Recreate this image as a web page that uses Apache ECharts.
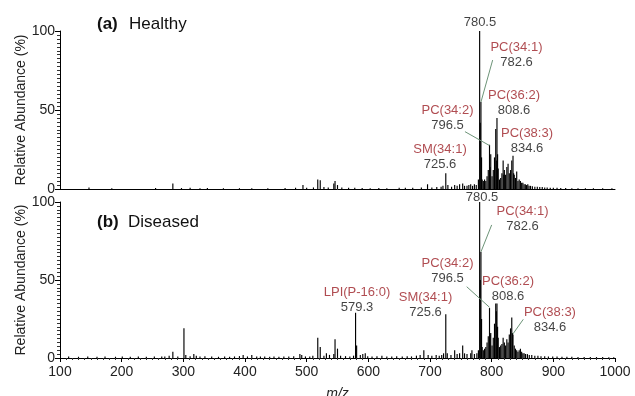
<!DOCTYPE html>
<html>
<head>
<meta charset="utf-8">
<script src="https://cdn.jsdelivr.net/npm/echarts@6/dist/echarts.min.js"></script>
<style>
  html, body { margin: 0; padding: 0; background: #fff; }
  #chart { width: 635px; height: 396px; }
</style>
</head>
<body>
<div id="chart"></div>
<script>
// peak lists (m/z, relative abundance %)
var healthyMz = [147, 184, 255, 283, 297, 311, 327, 339, 365, 391, 411, 437, 465, 482, 494, 500, 511, 518, 522, 528, 535, 544, 546, 550, 557, 568, 578, 590, 603, 617, 630, 650, 660, 672, 686, 696, 703, 711, 718, 721, 725.6, 729, 735, 740, 744, 748, 753, 756, 760, 763, 766, 769, 772, 775, 778.5,
  780.5, 781.5, 782.6, 783.6, 784.6, 786.5, 788.5, 790.5, 792.5, 794.5, 796.5, 797.5, 798.5, 800.6, 802.6, 804.6, 806.6, 807.6, 808.6, 809.6, 810.6, 812.6, 814.6, 816.6, 818.6, 819.6, 820.6, 822.6, 824.6, 826.6, 828.6, 830.6, 832.6, 834.6, 835.6, 836.6, 838.6, 840.6, 842.6, 844.6, 846.6, 848.6, 850.6, 852.6, 854.6, 856.6, 858.6, 860.6,
  863, 866, 870, 874, 878, 882, 886, 890, 895, 900, 906, 912, 920, 930, 940, 952, 965, 980, 995];
var healthyInt = [1.0, 0.5, 0.6, 3.5, 0.6, 0.8, 0.5, 0.6, 0.5, 0.5, 0.5, 0.4, 0.6, 0.8, 2.5, 0.8, 1.0, 6.0, 5.5, 1.2, 1.0, 3.5, 5.0, 2.5, 1.0, 0.8, 0.8, 0.6, 0.5, 0.6, 0.5, 0.8, 0.8, 0.8, 1.0, 3.0, 1.0, 1.2, 1.5, 2.0, 10, 2.5, 1.5, 2.5, 2.0, 3.0, 3.5, 2.0, 2.0, 2.5, 3.0, 2.0, 3.0, 2.5, 6,
  100, 42, 55, 20, 6, 5, 6, 5, 8, 12, 28, 14, 22, 8, 12, 20, 38, 18, 45, 22, 13, 6, 7, 10, 18, 9, 12, 9, 14, 16, 10, 12, 18, 21, 10, 9, 7, 11, 5, 6, 5, 4, 4, 3, 3, 2.5, 3, 2,
  2, 1.8, 1.5, 1.5, 1.2, 1.2, 1.0, 1.0, 0.8, 0.8, 0.8, 0.6, 0.6, 0.5, 0.5, 0.5, 0.4, 0.4, 0.4];

var diseasedMz = [114, 130, 145, 160, 173, 190, 201, 214, 227, 240, 253, 265, 270, 277, 283, 291, 301, 304, 311, 317, 321, 327, 335, 346, 357, 367, 375, 383, 391, 397, 404, 411, 419, 425, 432, 440, 447, 455, 463, 471, 479, 489, 492, 498, 505, 510, 518, 522, 528, 532, 537, 544, 546, 550, 555, 563, 570, 576, 579.3, 581, 587, 591, 595, 599,
  606, 614, 622, 630, 638, 646, 655, 663, 670, 678, 684, 690, 697, 703, 710, 715, 719, 722, 725.6, 728, 734, 740, 744, 748, 753, 756, 760, 766, 768, 772, 776, 778.5,
  780.5, 781.5, 782.6, 783.6, 784.6, 786.5, 788.5, 790.5, 792.5, 794.5, 796.5, 797.5, 798.5, 800.6, 802.6, 804.6, 806.6, 807.6, 808.6, 809.6, 810.6, 812.6, 814.6, 816.6, 818.6, 820.6, 822.6, 824.6, 826.6, 828.6, 830.6, 832.6, 833.6, 834.6, 836.6, 838.6, 840.6, 842.6, 844.6, 846.6, 848.6, 850.6, 852.6,
  855, 858, 861, 865, 870, 875, 880, 886, 892, 899, 906, 914, 922, 930, 940, 950, 960, 970, 980, 990, 998];
var diseasedInt = [1.0, 0.8, 1.0, 0.8, 1.0, 0.8, 1.0, 0.8, 1.0, 0.8, 1.0, 1.0, 1.0, 1.5, 4, 1.0, 19, 2, 1.2, 2.5, 1.5, 1.0, 1.2, 1.0, 0.8, 1.0, 0.8, 1.0, 1.2, 2.0, 1.0, 2.0, 1.0, 1.0, 1.0, 0.8, 1.0, 0.8, 1.0, 1.0, 1.2, 2.5, 2.0, 1.0, 1.0, 1.5, 13, 7, 1.5, 3, 2, 2.5, 12, 6, 1.5, 1.2, 1.0, 1.5, 29, 8, 2, 2.5, 3, 1.2,
  1.0, 1.2, 1.5, 1.0, 1.0, 1.2, 1.0, 1.2, 1.0, 1.5, 2.0, 5, 2.0, 1.5, 2.0, 1.5, 2.0, 3, 28, 3, 2, 5, 2.5, 3, 8, 3, 2.5, 3, 5, 2.5, 3, 5,
  100, 50, 68, 25, 7, 5, 6, 7, 10, 14, 32, 15, 16, 8, 13, 22, 35, 30, 35, 20, 13, 7, 8, 9, 13, 10, 8, 12, 10, 15, 19, 26, 16, 15, 8, 6, 5, 4, 5, 6, 4, 3, 3,
  2.5, 2.5, 2, 2, 1.5, 1.5, 1.2, 1.2, 1.0, 1.0, 1.0, 0.8, 0.8, 0.8, 0.7, 0.7, 0.6, 0.6, 0.6, 0.5, 0.5];

// peak annotations
var healthyNames = ['', 'PC(34:1)', 'PC(36:2)', 'PC(34:2)', 'PC(38:3)', 'SM(34:1)'];
var healthyTags = ['780.5', '782.6', '808.6', '796.5', '834.6', '725.6'];
var diseasedNames = ['', 'PC(34:1)', 'PC(34:2)', 'PC(36:2)', 'SM(34:1)', 'PC(38:3)', 'LPI(P-16:0)'];
var diseasedTags = ['780.5', '782.6', '796.5', '808.6', '725.6', '834.6', '579.3'];

// where the annotation blocks sit, in data units
var healthySpots = [[781, 105.7], [840.2, 84.8], [836.2, 54.7], [728.4, 44.9], [857.3, 30.4], [716.2, 20.3]];
var diseasedSpots = [[784.3, 103.2], [850, 89.4], [728.4, 55.8], [826.5, 44.6], [692.7, 34], [894.5, 24.4], [581.6, 37.5]];
// leader lines: label end -> peak
var healthyLeaders = [[801.6, 81.6, 782.6, 55], [756.7, 36.3, 796.5, 27.5]];
var diseasedLeaders = [[800, 85.3, 782.6, 68], [759.5, 45.7, 796.5, 32.5], [851.3, 24.8, 834.6, 15.5]];

var FONT = 'Liberation Sans, Arial, sans-serif';

function stickSeries(mz, inten, idx) {
  return {
    type: 'custom',
    xAxisIndex: idx,
    yAxisIndex: idx,
    data: mz.map(function (m, i) { return [m, inten[i]]; }),
    renderItem: function (params, api) {
      var p0 = api.coord([api.value(0), 0]);
      var p1 = api.coord([api.value(0), api.value(1)]);
      return {
        type: 'line',
        shape: { x1: p0[0], y1: p0[1], x2: p1[0], y2: p1[1] },
        style: { stroke: '#000', lineWidth: 1.15 }
      };
    },
    z: 2
  };
}

function leaderSeries(rows, idx) {
  return {
    type: 'custom',
    xAxisIndex: idx,
    yAxisIndex: idx,
    data: rows,
    clip: false,
    renderItem: function (params, api) {
      var a = api.coord([api.value(0), api.value(1)]);
      var b = api.coord([api.value(2), api.value(3)]);
      return {
        type: 'line',
        shape: { x1: a[0], y1: a[1], x2: b[0], y2: b[1] },
        style: { stroke: '#6d9478', lineWidth: 1 }
      };
    },
    z: 3
  };
}

function labelSeries(spots, names, tags, idx) {
  return {
    type: 'scatter',
    xAxisIndex: idx,
    yAxisIndex: idx,
    clip: false,
    symbolSize: 1,
    itemStyle: { color: 'rgba(0,0,0,0)' },
    silent: true,
    data: spots.map(function (s, i) { return { value: s, nm: names[i], tag: tags[i] }; }),
    label: {
      show: true,
      position: 'inside',
      align: 'center',
      verticalAlign: 'middle',
      formatter: function (p) {
        var d = p.data;
        return d.nm ? '{n|' + d.nm + '}\n{v|' + d.tag + '}' : '{v|' + d.tag + '}';
      },
      rich: {
        n: { color: '#9c1f25', fontSize: 13, fontFamily: FONT, lineHeight: 15, align: 'center' },
        v: { color: '#111', fontSize: 13, fontFamily: FONT, lineHeight: 15, align: 'center' }
      }
    },
    z: 4
  };
}

function yAxis(idx) {
  return {
    type: 'value',
    gridIndex: idx,
    min: 0,
    max: 100,
    interval: 50,
    name: 'Relative Abundance (%)',
    nameLocation: 'middle',
    nameGap: 32,
    nameMoveOverlap: false,
    nameTextStyle: { fontSize: 14, color: '#222', fontFamily: FONT },
    axisLine: { show: true, lineStyle: { color: '#000', width: 1 } },
    axisTick: { show: true, length: 5, lineStyle: { color: '#000' } },
    minorTick: { show: true, splitNumber: 20, length: 3, lineStyle: { color: '#333' } },
    axisLabel: { fontSize: 14, color: '#222', fontFamily: FONT, margin: 5 },
    splitLine: { show: false }
  };
}

var chart = echarts.init(document.getElementById('chart'));
var option = {
  backgroundColor: '#fff',
  animation: false,
  grid: [
    { left: 60, right: 20, top: 31, height: 158, outerBoundsMode: 'none' },
    { left: 60, right: 20, top: 202, height: 156, outerBoundsMode: 'none' }
  ],
  xAxis: [
    {
      type: 'value', gridIndex: 0, min: 100, max: 1000, interval: 100,
      axisLine: { show: true, onZero: false, lineStyle: { color: '#000', width: 1 } },
      axisTick: { show: false },
      axisLabel: { show: false },
      splitLine: { show: false }
    },
    {
      type: 'value', gridIndex: 1, min: 100, max: 1000, interval: 100,
      name: 'm/z',
      nameLocation: 'middle',
      nameGap: 29,
      nameMoveOverlap: false,
      nameTextStyle: { fontSize: 14, fontStyle: 'italic', color: '#222', fontFamily: FONT },
      axisLine: { show: true, onZero: false, lineStyle: { color: '#000', width: 1 } },
      axisTick: { show: true, length: 4, lineStyle: { color: '#000' } },
      minorTick: { show: true, splitNumber: 10, length: 2, lineStyle: { color: '#333' } },
      axisLabel: {
        fontSize: 14, color: '#222', fontFamily: FONT, margin: 7,
        formatter: function (v) { return String(v); }
      },
      splitLine: { show: false }
    }
  ],
  yAxis: [yAxis(0), yAxis(1)],
  graphic: [
    { type: 'text', left: 97, top: 16, style: { text: '(a)', font: 'bold 17px ' + FONT, fill: '#111' } },
    { type: 'text', left: 129, top: 16, style: { text: 'Healthy', font: '17px ' + FONT, fill: '#111' } },
    { type: 'text', left: 97, top: 214, style: { text: '(b)', font: 'bold 17px ' + FONT, fill: '#111' } },
    { type: 'text', left: 128, top: 214, style: { text: 'Diseased', font: '17px ' + FONT, fill: '#111' } }
  ],
  series: [
    stickSeries(healthyMz, healthyInt, 0),
    leaderSeries(healthyLeaders, 0),
    labelSeries(healthySpots, healthyNames, healthyTags, 0),
    stickSeries(diseasedMz, diseasedInt, 1),
    leaderSeries(diseasedLeaders, 1),
    labelSeries(diseasedSpots, diseasedNames, diseasedTags, 1)
  ]
};
chart.setOption(option);
window.onresize = chart.resize;
</script>
</body>
</html>
